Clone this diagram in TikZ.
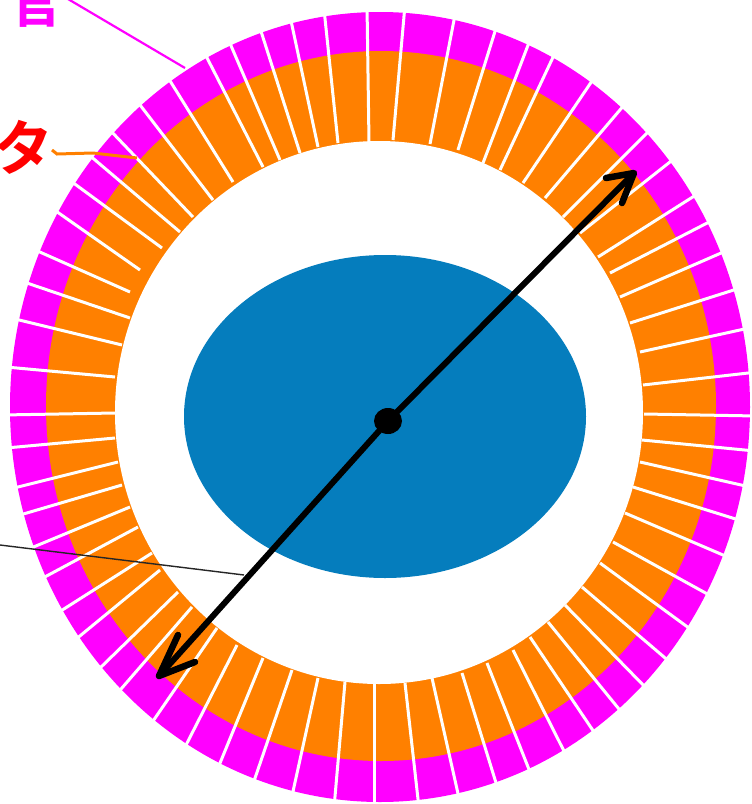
\documentclass[tikz,border=0pt]{standalone}
\usepackage{fontspec}
\newfontfamily\jpfont{Noto Sans CJK JP}[BoldFont={Noto Sans CJK JP Bold}]
\definecolor{ringmag}{RGB}{255,0,255}
\definecolor{ringora}{RGB}{255,128,0}
\definecolor{coreblue}{RGB}{5,125,189}
\tikzset{
  spoke/.style={draw=white,line width=3pt},
  leader/.style={line width=#1},
  coillabel/.style={font=\jpfont\bfseries\fontsize{56}{56}\selectfont,inner sep=0pt},
  corelabel/.style={font=\jpfont\bfseries\fontsize{60}{60}\selectfont,inner sep=0pt},
  shaft/.style={draw=black,line width=6pt},
  barb/.style={draw=black,line width=6.5pt,line cap=round,line join=round}
}
\begin{document}
\begin{tikzpicture}[x=1pt,y=-1pt]
\useasboundingbox (0,0) rectangle (752,804);
\clip (0,0) rectangle (752,804);
% rings
\fill[ringmag] (380,407) ellipse [x radius=370,y radius=395];
\fill[ringora] (381,406) ellipse [x radius=335,y radius=355];
\fill[white] (379,412.5) ellipse [x radius=264,y radius=271.5];
% spokes: outer end -- inner end
\foreach \ox/\oy/\ix/\iy in {
 367/5/369/142, 405/5/393/140, 455/15/430/144, 497/25/458/150, 530/40/483/163,
 555/53/500/170, 594/78/523/183, 625/104/545/198, 652/128/563/217, 675/158/580/233,
 699/193/598/257, 713/220/610/273, 728/250/620/297, 740/288/630/323, 749/328/640/352,
 757/372/643/385, 757/416/644/414, 755/451/642/440, 750/487/640/462, 742/521/633/487,
 730/558/625/513, 711/596/613/542, 693/631/600/563, 671/663/582/587, 648/690/565/605,
 623/714/548/622, 596/735/530/637, 566/755/513/650, 530/772/487/663, 497/786/462/673,
 459/798/432/678, 419/808/405/683, 374/810/374/683, 334/808/345/682, 292/796/318/678,
 253/784/292/670, 218/768/263/658, 184/749/237/645, 151/724/217/628, 115/696/192/607,
 98/670/178/592, 75/640/160/570, 56/614/152/553, 41/579/138/527, 31/548/130/507,
 20/515/122/485, 10/489/118/462, 6/448/115/438, 2/415/115/413, 6/367/115/377,
 11/318/122/345, 21/281/130/318, 33/249/130/292, 53/209/140/270, 68/179/162/248,
 88/154/180/232, 108/128/193/217, 137/101/213/200, 167/76/233/182, 203/50/263/167,
 229/41/280/160, 259/25/300/153, 290/16/318/147, 324/9/338/143
}{
  \draw[spoke] (\ox,\oy) -- (\ix,\iy);
}
% core
\fill[coreblue] (385,416.5) ellipse [x radius=201,y radius=161.5];
% labels
\node[coillabel,text=ringmag,anchor=base] (lblcoil) at (36,22) {官};
\node[corelabel,text=red,anchor=center] (lblcore) at (24,147) {タ};
% leaders
\coordinate (coilend) at (185,68);
\coordinate (coilstart) at (68,-1);
\coordinate (oraA) at (52,150);
\coordinate (oraB) at (57,154);
\coordinate (oraC) at (93,153);
\coordinate (oraD) at (137,158);
\coordinate (gapstart) at (0,545);
\coordinate (gapend) at (244,575);
\draw[leader=2.2pt,ringmag] (coilstart) -- (coilend);
\draw[leader=3pt,ringora] (oraA) -- (oraB) -- (oraC) -- (oraD);
\draw[leader=1.4pt,black!85] (gapstart) -- (gapend);
% diameter arrow
\coordinate (tipA) at (634,173);
\coordinate (tipB) at (159,676);
\coordinate (hub) at (388,421);
\fill[black] (hub) ellipse [x radius=14,y radius=13];
\draw[shaft] (tipA) -- (hub) -- (tipB);
\coordinate (barbA1) at (606,178);
\coordinate (barbA2) at (622,203);
\coordinate (barbB1) at (178,635);
\coordinate (barbB2) at (195,662);
\draw[barb] (barbA1) -- (tipA) -- (barbA2);
\draw[barb] (barbB1) -- (tipB) -- (barbB2);
\end{tikzpicture}
\end{document}
